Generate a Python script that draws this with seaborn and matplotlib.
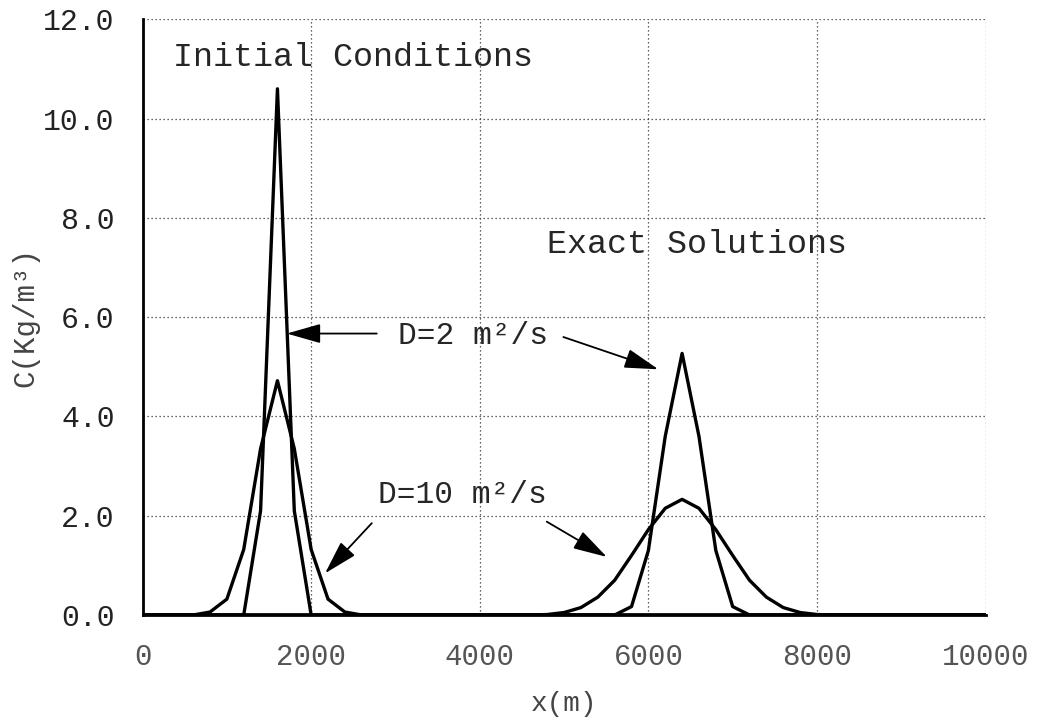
import numpy as np
import pandas as pd
import matplotlib
matplotlib.use("Agg")
import matplotlib.pyplot as plt
import seaborn as sns

# ---------------- data ----------------
init_d2_x = [0, 1200, 1400, 1600, 1800, 2000, 10000]
init_d2_c = [0.0, 0.0, 2.1, 10.6, 2.1, 0.0, 0.0]

init_d10_x = [0, 600, 800, 1000, 1200, 1400, 1600, 1800, 2000, 2200, 2400, 2600, 10000]
init_d10_c = [0.0, 0.0, 0.06, 0.32, 1.32, 3.35, 4.72, 3.35, 1.32, 0.32, 0.06, 0.0, 0.0]

exact_d2_x = [0, 5600, 5800, 6000, 6200, 6400, 6600, 6800, 7000, 7200, 10000]
exact_d2_c = [0.0, 0.0, 0.17, 1.3, 3.6, 5.27, 3.6, 1.3, 0.17, 0.0, 0.0]

exact_d10_x = [0, 4600, 4800, 5000, 5200, 5400, 5600, 5800, 6000, 6200, 6400,
               6600, 6800, 7000, 7200, 7400, 7600, 7800, 8000, 8200, 10000]
exact_d10_c = [0.0, 0.0, 0.01, 0.05, 0.15, 0.36, 0.7, 1.2, 1.72, 2.15, 2.33,
               2.15, 1.72, 1.2, 0.7, 0.36, 0.15, 0.05, 0.01, 0.0, 0.0]

x_ticks = [0, 2000, 4000, 6000, 8000, 10000]
x_tick_labels = ["0", "2000", "4000", "6000", "8000", "10000"]
y_ticks = [0, 2, 4, 6, 8, 10, 12]
y_tick_labels = ["0.0", "2.0", "4.0", "6.0", "8.0", "10.0", "12.0"]

series = {
    "init_D2": (init_d2_x, init_d2_c),
    "init_D10": (init_d10_x, init_d10_c),
    "exact_D2": (exact_d2_x, exact_d2_c),
    "exact_D10": (exact_d10_x, exact_d10_c),
}
frames = []
for name, (xs, cs) in series.items():
    frames.append(pd.DataFrame({"x": xs, "c": cs, "series": name}))
df = pd.concat(frames, ignore_index=True)

# ---------------- style ----------------
sns.set_style("white")
plt.rcParams["font.family"] = ["Liberation Mono", "DejaVu Sans"]

fig = plt.figure(figsize=(10.39, 7.21), dpi=100)
ax = fig.add_axes([0.1372, 0.147, 0.8114, 0.8262])

sns.lineplot(data=df, x="x", y="c", units="series", estimator=None,
             sort=False, color="black", lw=2.4, ax=ax, legend=False)

ax.set_xlim(0, 10000)
ax.set_ylim(0, 12)
ax.set_xticks(x_ticks)
ax.set_xticklabels(x_tick_labels)
ax.set_yticks(y_ticks)
ax.set_yticklabels(y_tick_labels)

ax.grid(True, linestyle=(0, (1, 2.2)), color="#333333", lw=0.9)
for s in ["top", "right"]:
    ax.spines[s].set_visible(False)
for s in ["left", "bottom"]:
    ax.spines[s].set_linewidth(2.0)
    ax.spines[s].set_color("black")

ax.tick_params(axis="y", direction="out", length=12, width=2.6, pad=8,
               labelsize=21.5, labelcolor="#222222", color="black")
ax.tick_params(axis="x", direction="out", length=12, width=1.4, pad=8,
               labelsize=21, labelcolor="#555555", color="black")

ax.set_xlabel("x(m)", fontsize=20, color="#444444")
ax.set_ylabel("C(Kg/m³)", fontsize=21, color="#444444")
ax.xaxis.set_label_coords(0.5, -0.128)
ax.yaxis.set_label_coords(-0.122, 0.5)

# ---------------- annotations ----------------
ax.text(358, 11.23, "Initial Conditions", fontsize=24, ha="left", va="center")
ax.text(4795, 7.47, "Exact Solutions", fontsize=24, ha="left", va="center")
ax.text(3034, 5.62, "D=2 m²/s", fontsize=22.5, ha="left", va="center")
ax.text(2797, 2.42, "D=10 m²/s", fontsize=22.5, ha="left", va="center")

arrow_kw = dict(arrowstyle="-|>,head_length=1.05,head_width=0.3",
                color="black", lw=1.3, mutation_scale=20,
                shrinkA=0, shrinkB=0)
ax.annotate("", xy=(1711, 5.67), xytext=(2778, 5.67), arrowprops=arrow_kw)
ax.annotate("", xy=(6118, 4.95), xytext=(4992, 5.6), arrowprops=arrow_kw)
ax.annotate("", xy=(2165, 0.84), xytext=(2719, 1.85), arrowprops=arrow_kw)
ax.annotate("", xy=(5507, 1.17), xytext=(4795, 1.88), arrowprops=arrow_kw)

fig.savefig("out.png", dpi=100)
